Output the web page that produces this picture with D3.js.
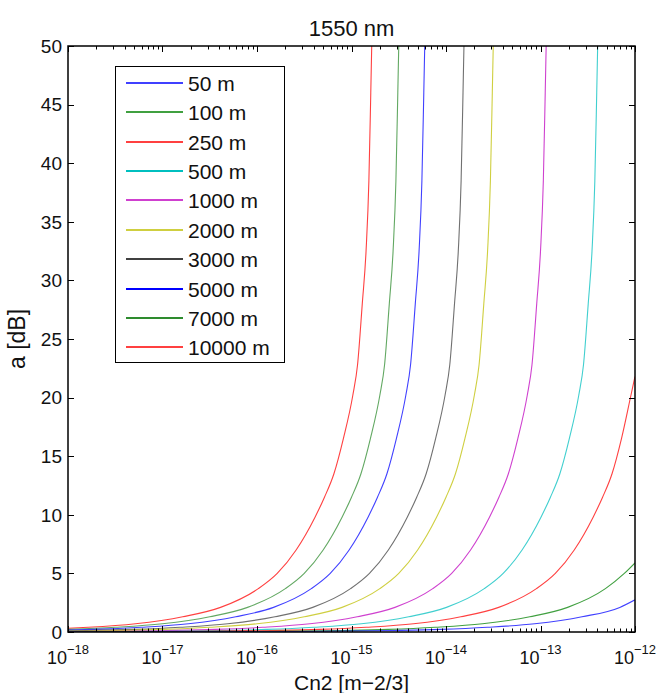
<!DOCTYPE html>
<html>
<head>
<meta charset="utf-8">
<script src="https://cdn.jsdelivr.net/npm/d3@7"></script>
<style>
  html, body { margin: 0; padding: 0; background: #fff; }
  svg { display: block; font-family: "Liberation Sans", Arial, Helvetica, sans-serif; }
</style>
</head>
<body>
<svg id="chart" width="661" height="693"></svg>
<script>
// ---- data ----
const seriesNames = ["50 m", "100 m", "250 m", "500 m", "1000 m", "2000 m", "3000 m", "5000 m", "7000 m", "10000 m"];

// log10(Cn2) sample positions and attenuation a [dB] for each distance
const exp50m   = [-18, -17.561, -16.561, -15.561, -14.561, -14.061, -13.561, -13.061, -12.561, -12.161, -12];
const att50m   = [0.003, 0.005, 0.015, 0.04, 0.13, 0.22, 0.4, 0.7, 1.3, 2.1, 2.75];

const exp100m  = [-18, -17.113, -16.113, -15.113, -14.613, -14.113, -13.613, -13.113, -12.713, -12.313, -12.113, -12];
const att100m  = [0.006, 0.015, 0.04, 0.13, 0.22, 0.4, 0.7, 1.3, 2.1, 3.7, 5.0, 5.9];

const exp250m  = [-18, -16.843, -15.843, -15.343, -14.843, -14.343, -13.843, -13.443, -13.043, -12.843, -12.643, -12.443, -12.343, -12.243, -12.143, -12.043, -12];
const att250m  = [0.013, 0.04, 0.13, 0.22, 0.4, 0.7, 1.3, 2.1, 3.7, 5.0, 7.0, 9.8, 11.5, 13.5, 16.5, 20.2, 21.8];

const exp500m  = [-18, -17.395, -16.895, -16.395, -15.895, -15.395, -14.895, -14.395, -13.995, -13.595, -13.395, -13.195, -12.995, -12.895, -12.795, -12.695, -12.595, -12.545, -12.495, -12.455, -12.425, -12.405, -12.395];
const att500m  = [0.024, 0.04, 0.07, 0.13, 0.22, 0.4, 0.7, 1.3, 2.1, 3.7, 5.0, 7.0, 9.8, 11.5, 13.5, 16.5, 20.2, 22.8, 28, 32.5, 38.5, 46, 50];

const exp1000m = [-18, -17.44, -16.94, -16.44, -15.94, -15.44, -14.94, -14.54, -14.14, -13.94, -13.74, -13.54, -13.44, -13.34, -13.24, -13.14, -13.09, -13.04, -13.0, -12.97, -12.95, -12.94];
const att1000m = [0.038, 0.07, 0.13, 0.22, 0.4, 0.7, 1.3, 2.1, 3.7, 5.0, 7.0, 9.8, 11.5, 13.5, 16.5, 20.2, 22.8, 28, 32.5, 38.5, 46, 50];

const exp2000m = [-18, -17.5, -17.0, -16.5, -16.0, -15.5, -15.1, -14.7, -14.5, -14.3, -14.1, -14.0, -13.9, -13.8, -13.7, -13.65, -13.6, -13.56, -13.53, -13.51, -13.5];
const att2000m = [0.07, 0.13, 0.22, 0.4, 0.7, 1.3, 2.1, 3.7, 5.0, 7.0, 9.8, 11.5, 13.5, 16.5, 20.2, 22.8, 28, 32.5, 38.5, 46, 50];

const exp3000m = [-18, -17.81, -17.31, -16.81, -16.31, -15.81, -15.41, -15.01, -14.81, -14.61, -14.41, -14.31, -14.21, -14.11, -14.01, -13.96, -13.91, -13.87, -13.84, -13.82, -13.81];
const att3000m = [0.11, 0.13, 0.22, 0.4, 0.7, 1.3, 2.1, 3.7, 5.0, 7.0, 9.8, 11.5, 13.5, 16.5, 20.2, 22.8, 28, 32.5, 38.5, 46, 50];

const exp5000m = [-18, -17.725, -17.225, -16.725, -16.225, -15.825, -15.425, -15.225, -15.025, -14.825, -14.725, -14.625, -14.525, -14.425, -14.375, -14.325, -14.285, -14.255, -14.235, -14.225];
const att5000m = [0.17, 0.22, 0.4, 0.7, 1.3, 2.1, 3.7, 5.0, 7.0, 9.8, 11.5, 13.5, 16.5, 20.2, 22.8, 28, 32.5, 38.5, 46, 50];

const exp7000m = [-18, -17.5, -17.0, -16.5, -16.1, -15.7, -15.5, -15.3, -15.1, -15.0, -14.9, -14.8, -14.7, -14.65, -14.6, -14.56, -14.53, -14.51, -14.5];
const att7000m = [0.22, 0.4, 0.7, 1.3, 2.1, 3.7, 5.0, 7.0, 9.8, 11.5, 13.5, 16.5, 20.2, 22.8, 28, 32.5, 38.5, 46, 50];

const exp10000m = [-18, -17.786, -17.286, -16.786, -16.386, -15.986, -15.786, -15.586, -15.386, -15.286, -15.186, -15.086, -14.986, -14.936, -14.886, -14.846, -14.816, -14.796, -14.786];
const att10000m = [0.32, 0.4, 0.7, 1.3, 2.1, 3.7, 5.0, 7.0, 9.8, 11.5, 13.5, 16.5, 20.2, 22.8, 28, 32.5, 38.5, 46, 50];

const xTickExponents = [-18, -17, -16, -15, -14, -13, -12];
const yTickValues = [0, 5, 10, 15, 20, 25, 30, 35, 40, 45, 50];

const titleText = "1550 nm";
const xLabelText = "Cn2 [m\u22122/3]";
const yLabelText = "a [dB]";

// ---- styles ----
const seriesColors = ["#0000ff", "#008000", "#ff0000", "#00bfbf", "#bf00bf", "#bfbf00", "#404040", "#0000ff", "#2e8b2e", "#ff0000"];
const legendWidths = [1.6, 1.6, 1.6, 1.8, 1.6, 1.6, 1.8, 2.2, 2.2, 1.6];

// ---- assemble ----
const expArrays = [exp50m, exp100m, exp250m, exp500m, exp1000m, exp2000m, exp3000m, exp5000m, exp7000m, exp10000m];
const attArrays = [att50m, att100m, att250m, att500m, att1000m, att2000m, att3000m, att5000m, att7000m, att10000m];
const series = seriesNames.map((name, i) => ({
  name,
  color: seriesColors[i],
  points: expArrays[i].map((e, j) => ({ cn2: Math.pow(10, e), a: attArrays[i][j] }))
}));

const svg = d3.select("#chart");
const L = 68, R = 635, T = 46, B = 632;

const x = d3.scaleLog().domain([1e-18, 1e-12]).range([L, R]);
const y = d3.scaleLinear().domain([0, 50]).range([B, T]);

svg.append("defs").append("clipPath").attr("id", "plotclip")
  .append("rect").attr("x", L).attr("y", T).attr("width", R - L).attr("height", B - T);

// lines
const line = d3.line().x(d => x(d.cn2)).y(d => y(d.a)).curve(d3.curveMonotoneX);
const gLines = svg.append("g").attr("clip-path", "url(#plotclip)");
series.slice().reverse().forEach(s => {
  gLines.append("path")
    .datum(s.points)
    .attr("fill", "none")
    .attr("stroke", s.color)
    .attr("stroke-width", 1.1)
    .attr("stroke-opacity", 0.75)
    .attr("d", line);
});

// axes: ticks inside, on all four sides (MATLAB box style)
const majorLen = 6, minorLen = 3.5;
const allLogTicks = x.ticks();
const majors = xTickExponents.map(e => Math.pow(10, e));
const isMajor = v => majors.some(m => Math.abs(Math.log10(v) - Math.log10(m)) < 1e-6);

const gAxes = svg.append("g").attr("stroke", "#000").attr("stroke-width", 1);
allLogTicks.forEach(v => {
  const px = Math.round(x(v)) + 0.5;
  const len = isMajor(v) ? majorLen : minorLen;
  gAxes.append("line").attr("x1", px).attr("x2", px).attr("y1", B).attr("y2", B - len);
  gAxes.append("line").attr("x1", px).attr("x2", px).attr("y1", T).attr("y2", T + len);
});
yTickValues.forEach(v => {
  const py = Math.round(y(v)) + 0.5;
  gAxes.append("line").attr("x1", L).attr("x2", L + majorLen).attr("y1", py).attr("y2", py);
  gAxes.append("line").attr("x1", R).attr("x2", R - majorLen).attr("y1", py).attr("y2", py);
});

// frame
svg.append("rect")
  .attr("x", L).attr("y", T).attr("width", R - L).attr("height", B - T)
  .attr("fill", "none").attr("stroke", "#000").attr("stroke-width", 1.5);

// y tick labels
svg.append("g").selectAll("text").data(yTickValues).join("text")
  .attr("x", L - 6)
  .attr("y", d => y(d))
  .attr("dy", "0.36em")
  .attr("text-anchor", "end")
  .attr("font-size", 19)
  .attr("fill", "#111")
  .text(d => d);

// x tick labels: 10^n
const xl = svg.append("g").selectAll("text").data(xTickExponents).join("text")
  .attr("x", d => x(Math.pow(10, d)))
  .attr("y", 664)
  .attr("text-anchor", "middle")
  .attr("font-size", 18)
  .attr("fill", "#111");
xl.append("tspan").text("10");
xl.append("tspan").attr("dy", -10).attr("font-size", 13).text(d => "\u2212" + Math.abs(d));

// title and labels
svg.append("text").attr("x", (L + R) / 2).attr("y", 36).attr("text-anchor", "middle")
  .attr("font-size", 22).attr("fill", "#111").text(titleText);
svg.append("text").attr("x", (L + R) / 2).attr("y", 690).attr("text-anchor", "middle")
  .attr("font-size", 21).attr("fill", "#111").text(xLabelText);
svg.append("text").attr("transform", `translate(25,${(T + B) / 2}) rotate(-90)`)
  .attr("text-anchor", "middle").attr("font-size", 23).attr("fill", "#111").text(yLabelText);

// legend
const lg = svg.append("g");
lg.append("rect").attr("x", 115.5).attr("y", 66.5).attr("width", 169).attr("height", 296)
  .attr("fill", "#fff").attr("stroke", "#000").attr("stroke-width", 1);
const rowY = i => Math.round(82.7 + i * 29.4);
series.forEach((s, i) => {
  lg.append("line").attr("x1", 126).attr("x2", 183)
    .attr("y1", rowY(i)).attr("y2", rowY(i))
    .attr("stroke", s.color).attr("stroke-width", legendWidths[i]);
  lg.append("text").attr("x", 188).attr("y", rowY(i)).attr("dy", "0.36em")
    .attr("font-size", 21).attr("fill", "#111").text(s.name);
});
</script>
</body>
</html>
